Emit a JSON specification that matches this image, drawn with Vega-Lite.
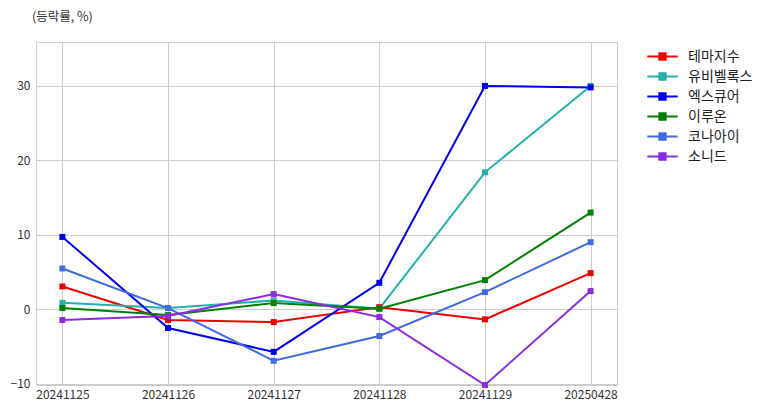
{
  "$schema": "https://vega.github.io/schema/vega-lite/v6.json",
  "autosize": "none",
  "width": 581,
  "height": 343,
  "padding": {"left": 36, "top": 42, "right": 156, "bottom": 31},
  "background": "white",
  "title": {"text": "(등락률, %)", "anchor": "start", "frame": "group", "offset": 19, "dx": -4, "fontSize": 12.5, "fontWeight": "normal", "color": "#333333", "font": "Noto Sans CJK KR"},
  "config": {
    "font": "Noto Sans CJK KR",
    "view": {"stroke": "#cccccc", "strokeWidth": 1}
  },
  "data": {"values": [
    {"date": "20241125", "name": "테마지수", "value": 3.08},
    {"date": "20241126", "name": "테마지수", "value": -1.43},
    {"date": "20241127", "name": "테마지수", "value": -1.7},
    {"date": "20241128", "name": "테마지수", "value": 0.3},
    {"date": "20241129", "name": "테마지수", "value": -1.34},
    {"date": "20250428", "name": "테마지수", "value": 4.87},
    {"date": "20241125", "name": "유비벨록스", "value": 0.89},
    {"date": "20241126", "name": "유비벨록스", "value": 0.18},
    {"date": "20241127", "name": "유비벨록스", "value": 1.2},
    {"date": "20241128", "name": "유비벨록스", "value": 0.09},
    {"date": "20241129", "name": "유비벨록스", "value": 18.4},
    {"date": "20250428", "name": "유비벨록스", "value": 30.0},
    {"date": "20241125", "name": "엑스큐어", "value": 9.73},
    {"date": "20241126", "name": "엑스큐어", "value": -2.5},
    {"date": "20241127", "name": "엑스큐어", "value": -5.7},
    {"date": "20241128", "name": "엑스큐어", "value": 3.57},
    {"date": "20241129", "name": "엑스큐어", "value": 30.0},
    {"date": "20250428", "name": "엑스큐어", "value": 29.8},
    {"date": "20241125", "name": "이루온", "value": 0.18},
    {"date": "20241126", "name": "이루온", "value": -0.76},
    {"date": "20241127", "name": "이루온", "value": 0.85},
    {"date": "20241128", "name": "이루온", "value": 0.09},
    {"date": "20241129", "name": "이루온", "value": 3.93},
    {"date": "20250428", "name": "이루온", "value": 13.0},
    {"date": "20241125", "name": "코나아이", "value": 5.49},
    {"date": "20241126", "name": "코나아이", "value": 0.18},
    {"date": "20241127", "name": "코나아이", "value": -6.9},
    {"date": "20241128", "name": "코나아이", "value": -3.57},
    {"date": "20241129", "name": "코나아이", "value": 2.32},
    {"date": "20250428", "name": "코나아이", "value": 9.02},
    {"date": "20241125", "name": "소니드", "value": -1.43},
    {"date": "20241126", "name": "소니드", "value": -0.89},
    {"date": "20241127", "name": "소니드", "value": 2.05},
    {"date": "20241128", "name": "소니드", "value": -1.03},
    {"date": "20241129", "name": "소니드", "value": -10.15},
    {"date": "20250428", "name": "소니드", "value": 2.46}
  ]},
  "mark": {"type": "line", "strokeWidth": 2, "clip": false, "point": {"shape": "square", "size": 36, "filled": true}},
  "encoding": {
    "x": {"field": "date", "type": "ordinal", "scale": {"type": "point", "padding": 0.25},
      "axis": {"title": null, "labelAngle": 0, "labelFontSize": 12, "labelColor": "#333333", "ticks": false, "domain": false, "grid": true, "gridColor": "#cccccc", "labelPadding": 4}},
    "y": {"field": "value", "type": "quantitative", "scale": {"domain": [-10.15, 35.9], "nice": false, "zero": false},
      "axis": {"title": null, "values": [-10, 0, 10, 20, 30], "labelFontSize": 12, "labelColor": "#333333", "ticks": false, "domain": false, "grid": true, "gridColor": "#cccccc", "labelPadding": 6}},
    "color": {"field": "name", "type": "nominal",
      "scale": {"domain": ["테마지수", "유비벨록스", "엑스큐어", "이루온", "코나아이", "소니드"], "range": ["#ee0000", "#20b2aa", "#0000ee", "#008000", "#4169e1", "#8a2be2"]},
      "legend": {"title": null, "orient": "none", "legendX": 619, "legendY": 7, "labelFontSize": 14, "labelColor": "#222222", "rowPadding": 5, "symbolType": "M-2.4,0L2.4,0M-0.5,-0.5H0.5V0.5H-0.5Z", "symbolSize": 160, "symbolStrokeWidth": 2, "labelOffset": 18}},
    "order": {"field": "date"}
  }
}
